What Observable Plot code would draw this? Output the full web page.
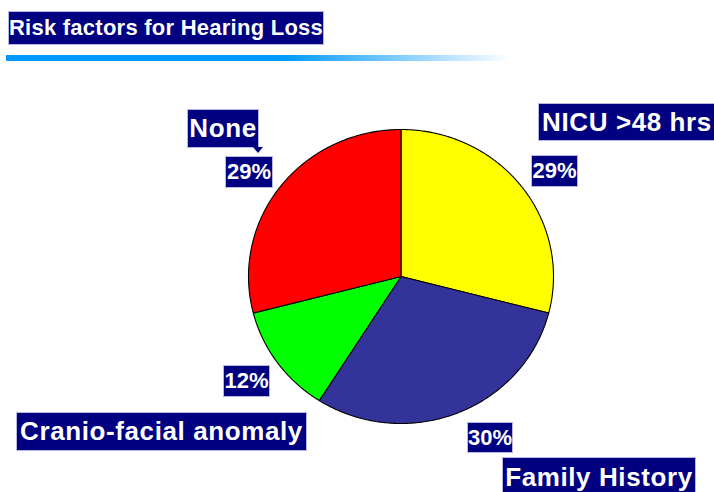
<!DOCTYPE html>
<html>
<head>
<meta charset="utf-8">
<script src="https://cdn.jsdelivr.net/npm/d3@7"></script>
<script src="https://cdn.jsdelivr.net/npm/@observablehq/plot@0.6"></script>
<style>
  html, body { margin: 0; padding: 0; background: #ffffff; }
  #wrap { position: relative; width: 714px; height: 492px; overflow: hidden; font-family: "Liberation Sans", Arial, sans-serif; }
  #chart { position: absolute; left: 0; top: 0; }
  .box { position: absolute; background: #000080; color: #ffffff; font-weight: bold;
         display: flex; align-items: center; justify-content: center; white-space: nowrap;
         box-sizing: border-box; border: 1px solid #b8b8e0; }
  .title { font-size: 22px; letter-spacing: 0.25px; }
  .cat { font-size: 26px; letter-spacing: 0.6px; }
  .pct { font-size: 22px; }
  #rule { position: absolute; left: 6px; top: 55px; width: 504px; height: 6px;
          background: linear-gradient(to right, #0099ff 0%, #0099ff 55%, #ffffff 100%); }
  #ptr { position: absolute; left: 253px; top: 147px; width: 0; height: 0;
         border-left: 5px solid transparent; border-right: 5px solid transparent; border-top: 6px solid #000080; }
</style>
</head>
<body>
<div id="wrap">
  <div id="chart"></div>
</div>
<script>
// ---- data ----
const titleText = "Risk factors for Hearing Loss";
const categories = ["NICU >48 hrs", "Family History", "Cranio-facial anomaly", "None"];
const percents = [29, 30, 12, 29];
const sliceColors = ["#ffff00", "#333399", "#00ff00", "#ff0000"];

// ---- layout (label box positions: left, top, width, height) ----
const catBoxes = [
  [538, 103, 178, 38],
  [502, 457, 194, 40],
  [16, 412, 291, 39],
  [187, 109, 72, 39]
];
const pctBoxes = [
  [531, 155, 47, 32],
  [467, 422, 46, 31],
  [223, 365, 47, 32],
  [225, 156, 48, 32]
];

// ---- build slices from data via d3.pie ----
const arcs = d3.pie().sort(null).value(d => d)(percents);
const pts = [];
arcs.forEach((a, i) => {
  const cat = categories[i];
  pts.push({cat, x: 0, y: 0});
  const n = Math.max(8, Math.ceil((a.endAngle - a.startAngle) / 0.01));
  for (let k = 0; k <= n; k++) {
    const t = a.startAngle + (a.endAngle - a.startAngle) * k / n;
    pts.push({cat, x: Math.sin(t), y: Math.cos(t)});
  }
});

const chart = Plot.plot({
  width: 714,
  height: 492,
  margin: 0,
  x: {domain: [-1, 1], range: [248, 553], axis: null},
  y: {domain: [-1, 1], range: [423, 129], axis: null},
  color: {domain: categories, range: sliceColors},
  style: {background: "transparent", overflow: "visible"},
  marks: [
    Plot.line(pts, {x: "x", y: "y", z: "cat", fill: "cat", stroke: "#000000", strokeWidth: 1.1, curve: "linear-closed", strokeLinejoin: "round"})
  ]
});
document.getElementById("chart").appendChild(chart);

// ---- labels ----
const wrap = document.getElementById("wrap");
function addBox(text, b, cls) {
  const d = document.createElement("div");
  d.className = "box " + cls;
  d.textContent = text;
  d.style.left = b[0] + "px";
  d.style.top = b[1] + "px";
  d.style.width = b[2] + "px";
  d.style.height = b[3] + "px";
  wrap.appendChild(d);
  return d;
}
addBox(titleText, [8, 11, 316, 34], "title");
const rule = document.createElement("div"); rule.id = "rule"; wrap.appendChild(rule);
categories.forEach((c, i) => addBox(c, catBoxes[i], "cat"));
percents.forEach((p, i) => addBox(p + "%", pctBoxes[i], "pct"));
const ptr = document.createElement("div"); ptr.id = "ptr"; wrap.appendChild(ptr);
</script>
</body>
</html>
